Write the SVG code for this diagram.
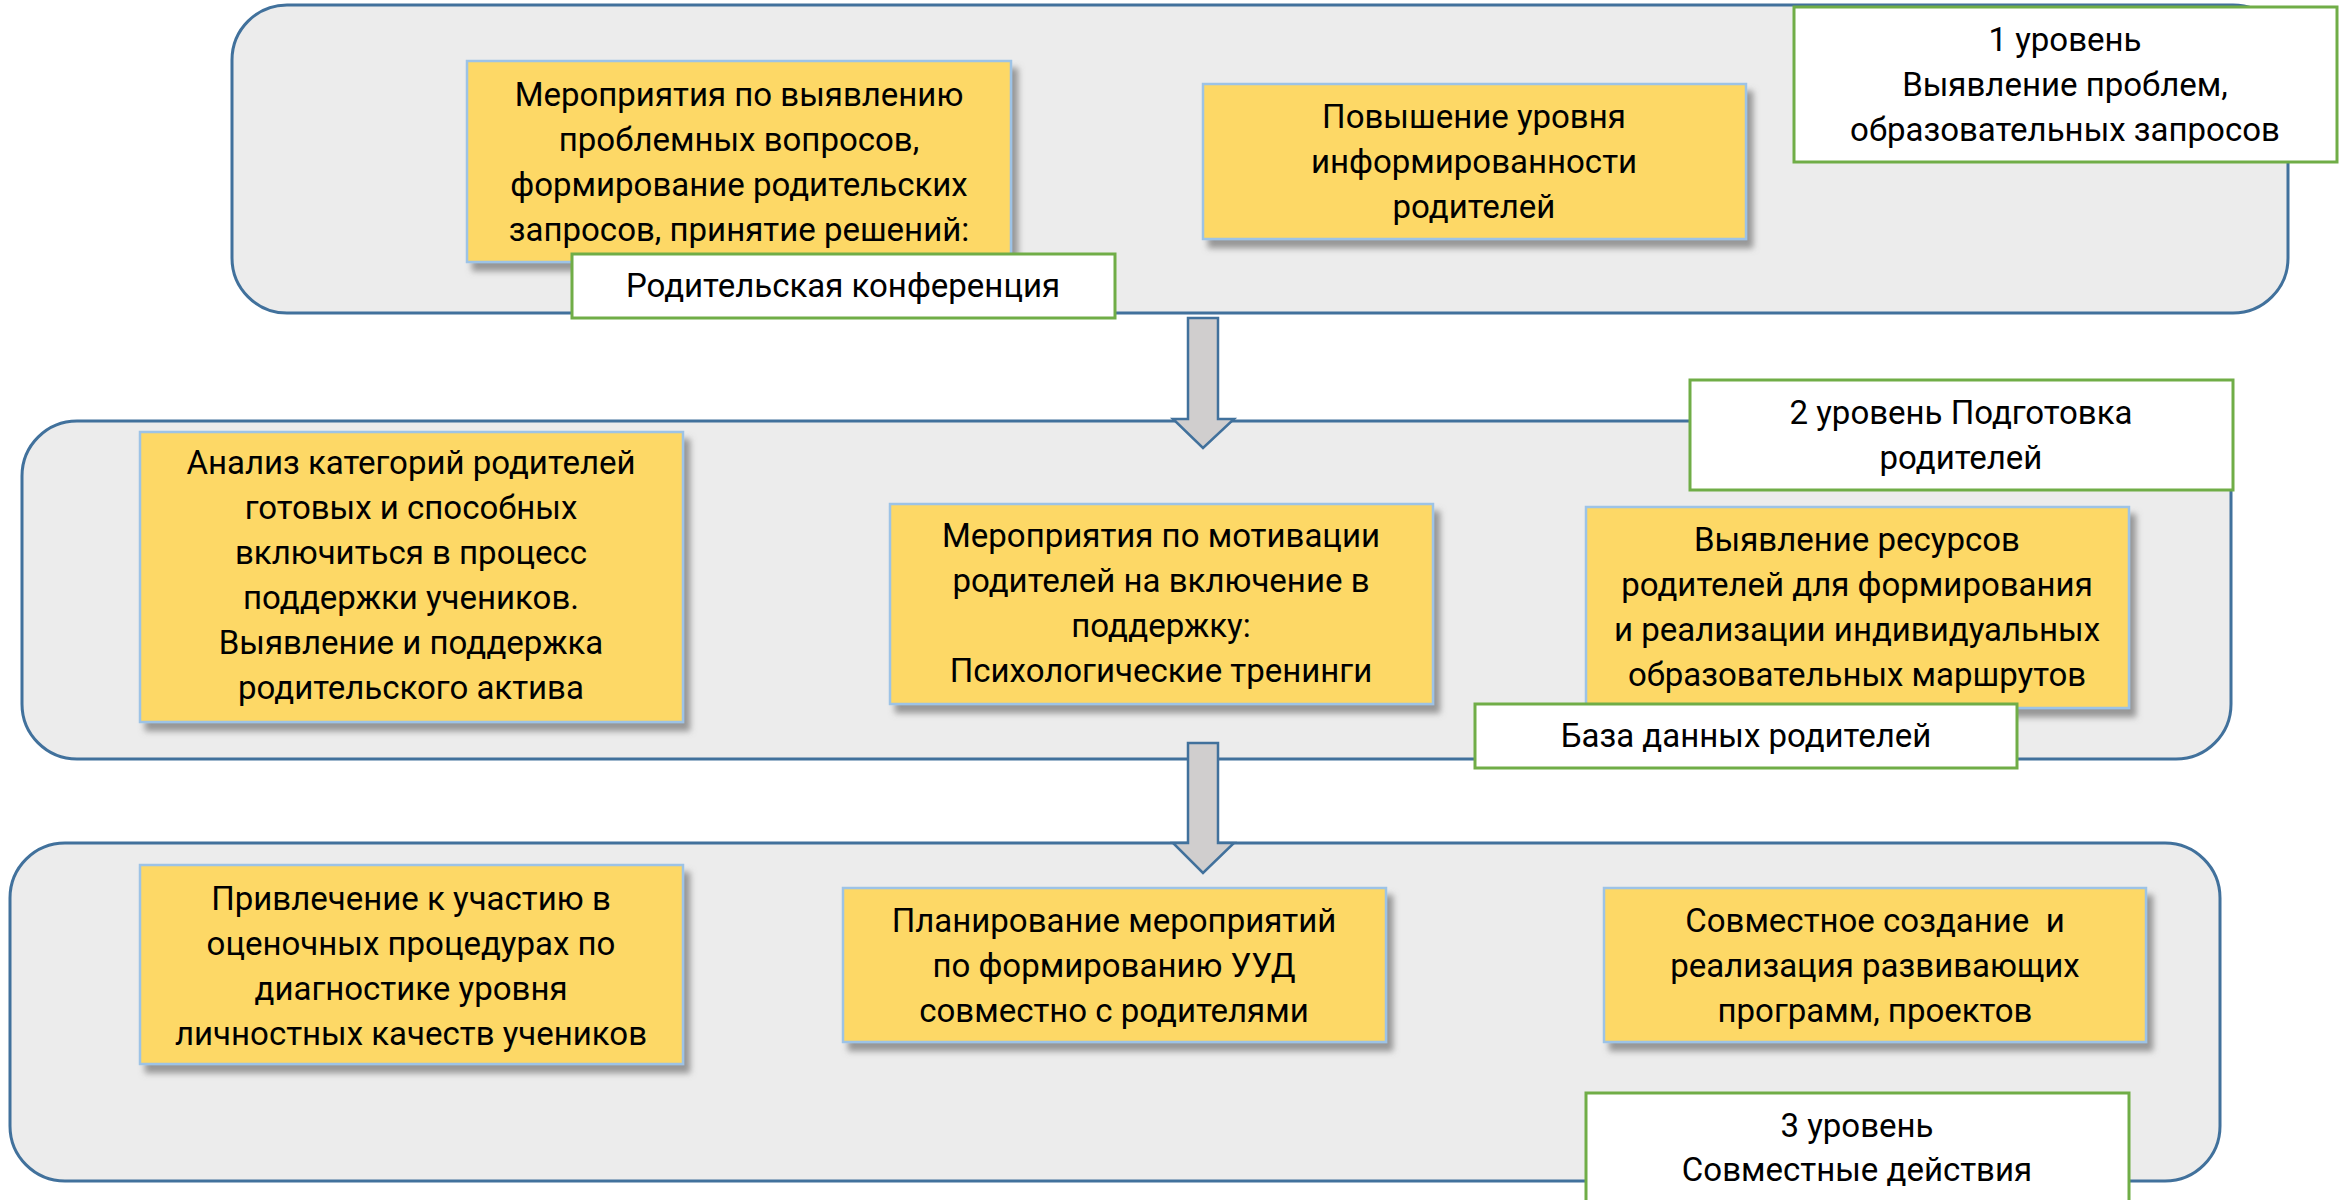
<svg xmlns="http://www.w3.org/2000/svg" width="2344" height="1200" viewBox="0 0 2344 1200">
<defs>
<filter id="sh" x="-10%" y="-10%" width="130%" height="130%">
<feDropShadow dx="6" dy="8" stdDeviation="3" flood-color="#7a7a7a" flood-opacity="0.75"/>
</filter>
<style>
.panel{fill:#ECECEC;stroke:#41719C;stroke-width:3}
.card{fill:#FDD866;stroke:#9DC3E6;stroke-width:2.5;filter:url(#sh)}
.lbl{fill:#FFFFFF;stroke:#70AD47;stroke-width:3}
.arr{fill:#D0CECE;stroke:#41719C;stroke-width:2.5;stroke-linejoin:miter}
text{font-family:Roboto,"Open Sans","Liberation Sans",sans-serif;font-size:33px;fill:#000;text-anchor:middle}
</style>
</defs>
<rect width="2344" height="1200" fill="#FFFFFF"/>

<g id="panel1"><rect class="panel" x="232" y="5" width="2056" height="308" rx="55" ry="55"/></g>
<g id="panel2"><rect class="panel" x="22" y="421" width="2209" height="338" rx="55" ry="55"/></g>
<g id="panel3"><rect class="panel" x="10" y="843" width="2210" height="338" rx="55" ry="55"/></g>

<g id="connectors">
<polygon class="arr" points="1188,318 1218,318 1218,419 1234,419 1203,448 1173,419 1188,419"/>
<polygon class="arr" points="1188,743 1218,743 1218,843 1234,843 1203,873 1173,843 1188,843"/>
</g>

<g id="card-meropriyatiya-vyyavlenie">
<rect class="card" x="467" y="61" width="544" height="201"/>
<text x="739" y="106">Мероприятия по выявлению</text>
<text x="739" y="151">проблемных вопросов,</text>
<text x="739" y="196">формирование родительских</text>
<text x="739" y="241">запросов, принятие решений:</text>
</g>
<g id="label-konferenciya">
<rect class="lbl" x="572" y="254" width="543" height="64"/>
<text x="843" y="297">Родительская конференция</text>
</g>
<g id="card-povyshenie">
<rect class="card" x="1203" y="84" width="543" height="155"/>
<text x="1474" y="128">Повышение уровня</text>
<text x="1474" y="173">информированности</text>
<text x="1474" y="218">родителей</text>
</g>
<g id="label-level1">
<rect class="lbl" x="1794" y="7" width="543" height="155"/>
<text x="2065" y="51">1 уровень</text>
<text x="2065" y="96">Выявление проблем,</text>
<text x="2065" y="141">образовательных запросов</text>
</g>

<g id="card-analiz">
<rect class="card" x="140" y="432" width="543" height="290"/>
<text x="411" y="474">Анализ категорий родителей</text>
<text x="411" y="519">готовых и способных</text>
<text x="411" y="564">включиться в процесс</text>
<text x="411" y="609">поддержки учеников.</text>
<text x="411" y="654">Выявление и поддержка</text>
<text x="411" y="699">родительского актива</text>
</g>
<g id="card-motivaciya">
<rect class="card" x="890" y="504" width="543" height="200"/>
<text x="1161" y="547">Мероприятия по мотивации</text>
<text x="1161" y="592">родителей на включение в</text>
<text x="1161" y="637">поддержку:</text>
<text x="1161" y="682">Психологические тренинги</text>
</g>
<g id="label-level2">
<rect class="lbl" x="1690" y="380" width="543" height="110"/>
<text x="1961" y="424">2 уровень Подготовка</text>
<text x="1961" y="469">родителей</text>
</g>
<g id="card-resursy">
<rect class="card" x="1586" y="507" width="543" height="201"/>
<text x="1857" y="551">Выявление ресурсов</text>
<text x="1857" y="596">родителей для формирования</text>
<text x="1857" y="641">и реализации индивидуальных</text>
<text x="1857" y="686">образовательных маршрутов</text>
</g>
<g id="label-baza">
<rect class="lbl" x="1475" y="704" width="542" height="64"/>
<text x="1746" y="747">База данных родителей</text>
</g>

<g id="card-privlechenie">
<rect class="card" x="140" y="865" width="543" height="199"/>
<text x="411" y="910">Привлечение к участию в</text>
<text x="411" y="955">оценочных процедурах по</text>
<text x="411" y="1000">диагностике уровня</text>
<text x="411" y="1045">личностных качеств учеников</text>
</g>
<g id="card-planirovanie">
<rect class="card" x="843" y="888" width="543" height="154"/>
<text x="1114" y="932">Планирование мероприятий</text>
<text x="1114" y="977">по формированию УУД</text>
<text x="1114" y="1022">совместно с родителями</text>
</g>
<g id="card-sovmestnoe">
<rect class="card" x="1604" y="888" width="542" height="154"/>
<text x="1875" y="932" xml:space="preserve">Совместное создание  и</text>
<text x="1875" y="977">реализация развивающих</text>
<text x="1875" y="1022">программ, проектов</text>
</g>
<g id="label-level3">
<rect class="lbl" x="1586" y="1093" width="543" height="120"/>
<text x="1857" y="1137">3 уровень</text>
<text x="1857" y="1181">Совместные действия</text>
</g>
</svg>
